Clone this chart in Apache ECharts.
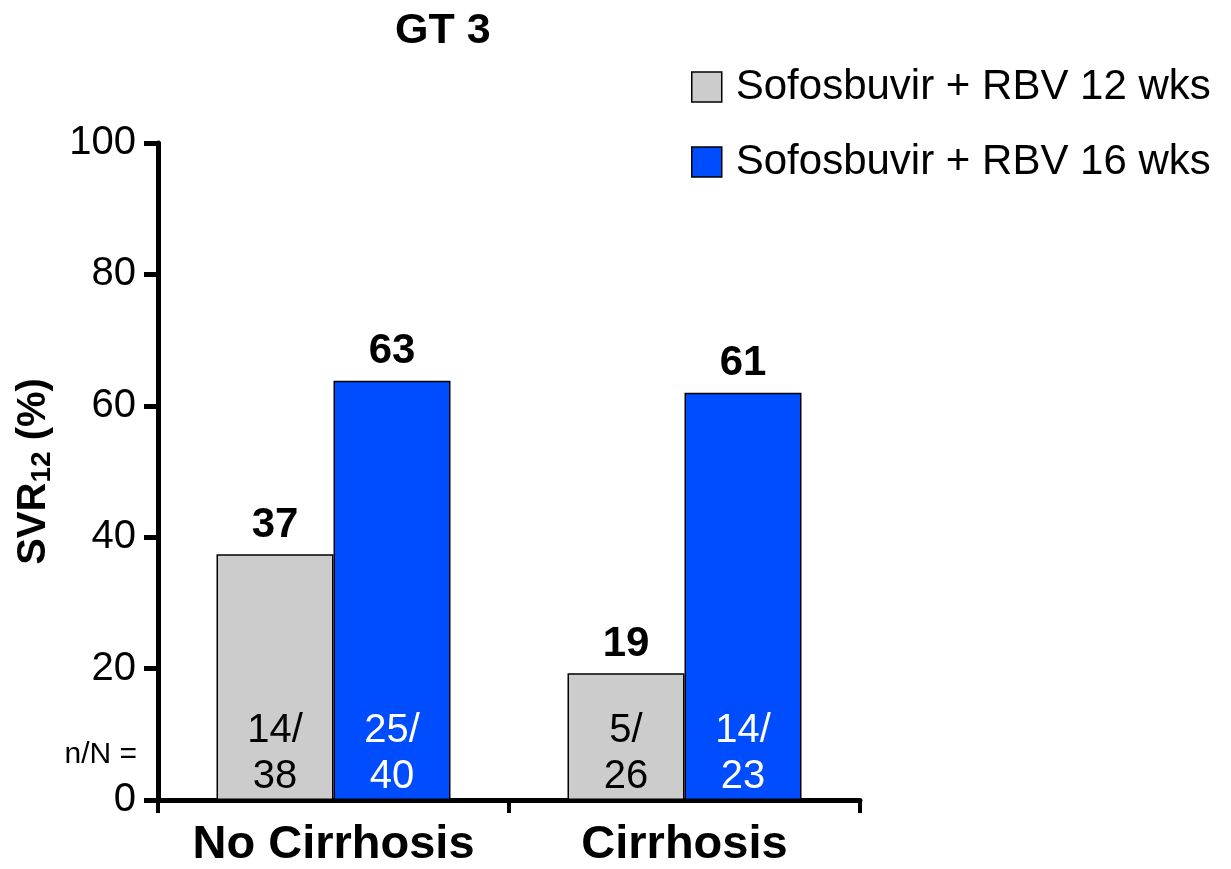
<!DOCTYPE html>
<html>
<head>
<meta charset="utf-8">
<script src="https://cdn.jsdelivr.net/npm/echarts@6/dist/echarts.min.js"></script>
<style>
html,body{margin:0;padding:0;background:#fff;}
#chart{width:1231px;height:869px;}
</style>
</head>
<body>
<div id="chart"></div>
<script>
var categories = ['No Cirrhosis', 'Cirrhosis'];
var seriesNames = ['Sofosbuvir + RBV 12 wks', 'Sofosbuvir + RBV 16 wks'];
var values12 = [37.4, 19.3];
var values16 = [63.8, 62.0];
var valueLabels12 = ['37', '19'];
var valueLabels16 = ['63', '61'];
var nLabels12 = ['14/\n38', '5/\n26'];
var nLabels16 = ['25/\n40', '14/\n23'];
var yTicks = [0, 20, 40, 60, 80, 100];

var FONT = 'Liberation Sans, Arial, sans-serif';
var chart = echarts.init(document.getElementById('chart'));

function topLabelSeries(stack, labels) {
  return {
    type: 'bar',
    stack: stack,
    data: categories.map(function () { return 0; }),
    barWidth: 117,
    barGap: '0%',
    itemStyle: { color: 'rgba(0,0,0,0)', borderWidth: 0 },
    silent: true,
    label: {
      show: true,
      position: 'top',
      distance: 8,
      fontFamily: FONT,
      fontSize: 42,
      fontWeight: 'bold',
      color: '#000',
      formatter: function (p) { return labels[p.dataIndex]; }
    }
  };
}

function mainSeries(name, stack, data, color, labels, labelColor) {
  return {
    name: name,
    type: 'bar',
    stack: stack,
    data: data,
    barWidth: 117,
    barGap: '0%',
    itemStyle: { color: color, borderColor: '#000', borderWidth: 1.5 },
    label: {
      show: true,
      position: 'insideBottom',
      distance: 0,
      fontFamily: FONT,
      fontSize: 40,
      lineHeight: 46,
      color: labelColor,
      formatter: function (p) { return labels[p.dataIndex]; }
    }
  };
}

chart.setOption({
  animation: false,
  backgroundColor: '#fff',
  title: {
    text: 'GT 3',
    left: 390,
    top: 5,
    textStyle: { fontFamily: FONT, fontSize: 43, fontWeight: 'bold', color: '#000' }
  },
  legend: {
    data: seriesNames,
    orient: 'vertical',
    left: 686,
    top: 61,
    itemWidth: 30,
    itemHeight: 30,
    itemGap: 33,
    icon: 'rect',
    itemStyle: { borderColor: '#000', borderWidth: 1.5 },
    textStyle: { fontFamily: FONT, fontSize: 42, color: '#000', padding: [0, 0, 0, 9] }
  },
  grid: { left: 158, right: 371, top: 143, bottom: 65, containLabel: false },
  xAxis: {
    type: 'category',
    data: categories,
    axisLine: { lineStyle: { color: '#000', width: 5 } },
    axisTick: { show: true, interval: 0, alignWithLabel: false, length: 13, lineStyle: { color: '#000', width: 4 } },
    axisLabel: { interval: 0, hideOverlap: false, fontFamily: FONT, fontSize: 47, fontWeight: 'bold', color: '#000', margin: 22 }
  },
  yAxis: {
    type: 'value',
    min: 0,
    max: 100,
    interval: 20,
    name: '{a|SVR}{s|12}{a| (%)}',
    nameLocation: 'middle',
    nameGap: 102,
    nameRotate: 90,
    nameTextStyle: {
      rich: {
        a: { fontFamily: FONT, fontSize: 40, fontWeight: 'bold', color: '#000' },
        s: { fontFamily: FONT, fontSize: 28, fontWeight: 'bold', color: '#000', verticalAlign: 'bottom', padding: [16, 0, 0, 0] }
      }
    },
    splitLine: { show: false },
    axisLine: { show: true, lineStyle: { color: '#000', width: 5 } },
    axisTick: { show: true, inside: false, length: 14, lineStyle: { color: '#000', width: 5 } },
    axisLabel: {
      fontFamily: FONT, fontSize: 40, color: '#000', margin: 22,
      formatter: function (v) { return yTicks.indexOf(v) >= 0 ? String(v) : ''; }
    }
  },
  graphic: [{
    type: 'text',
    right: 1231 - 137,
    top: 740,
    style: { text: 'n/N =', fontFamily: FONT, fontSize: 30, fill: '#000', textAlign: 'right' }
  }],
  series: [
    mainSeries(seriesNames[0], 'g', values12, '#cccccc', nLabels12, '#000'),
    topLabelSeries('g', valueLabels12),
    mainSeries(seriesNames[1], 'b', values16, '#004cff', nLabels16, '#fff'),
    topLabelSeries('b', valueLabels16)
  ]
});
</script>
</body>
</html>
